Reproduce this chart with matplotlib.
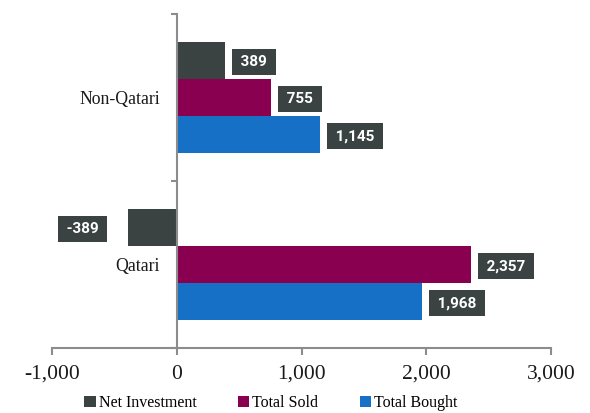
import matplotlib
matplotlib.use("Agg")
import matplotlib.pyplot as plt
from matplotlib import font_manager as fm
from matplotlib.patches import Patch

categories = ["Qatari", "Non-Qatari"]
series_names = ["Net Investment", "Total Sold", "Total Bought"]
net_investment = [-389, 389]
total_sold = [2357, 755]
total_bought = [1968, 1145]
x_ticks = [-1000, 0, 1000, 2000, 3000]
x_tick_labels = ["-1,000", "0", "1,000", "2,000", "3,000"]

colors = ["#3b4242", "#8a0050", "#1570c6"]
label_box = "#3b4242"
axis_gray = "#8c8c8c"


def pick(cands):
    for c in cands:
        try:
            fm.findfont(fm.FontProperties(family=c), fallback_to_default=False)
            return c
        except Exception:
            pass
    return cands[-1]


serif = pick(["Liberation Serif", "DejaVu Serif"])
narrow = pick(["Roboto", "DejaVu Sans"])
plt.rcParams["font.family"] = [serif, "DejaVu Serif"]

fig = plt.figure(figsize=(5.9, 4.13), dpi=100)
ax = fig.add_axes([52 / 590, 1 - 348 / 413, 499 / 590, (348 - 14) / 413])

h = 0.222
offsets = [h, 0.0, -h]
series = [net_investment, total_sold, total_bought]
fs_lab = 11
pad = 0.4
pad_pt = pad * fs_lab
sp = "\u2006"
for vals, off, col, name in zip(series, offsets, colors, series_names):
    ys = [i + off for i in range(len(categories))]
    ax.barh(ys, vals, height=h, color=col, edgecolor="none", label=name)
    for y, v in zip(ys, vals):
        txt = f"{sp}{v:,}{sp}"
        if v >= 0:
            ax.annotate(txt, (v, y), xytext=(5 + pad_pt, -1.2), textcoords="offset points",
                        ha="left", va="center", color="white", fontsize=fs_lab,
                        fontweight="bold", family=[narrow, "DejaVu Sans"],
                        bbox=dict(boxstyle=f"square,pad={pad}", fc=label_box, ec="none"))
        else:
            ax.annotate(txt, (v, y), xytext=(-15 - pad_pt, -1.2), textcoords="offset points",
                        ha="right", va="center", color="white", fontsize=fs_lab,
                        fontweight="bold", family=[narrow, "DejaVu Sans"],
                        bbox=dict(boxstyle=f"square,pad={pad}", fc=label_box, ec="none"))

ax.set_xlim(-1000, 3000)
ax.set_ylim(-0.5, 1.5)
ax.set_xticks(x_ticks)
ax.set_xticklabels(x_tick_labels)
ax.tick_params(axis="x", direction="out", length=5, width=1.5, color=axis_gray, pad=7,
               labelsize=15.5, labelcolor="#1a1a1a")

ax.set_yticks([-0.5, 0.5, 1.5])
ax.set_yticklabels([])
ax.tick_params(axis="y", which="major", direction="out", length=4, width=1.5, color=axis_gray)
ax.set_yticks(range(len(categories)), minor=True)
ax.set_yticklabels(categories, minor=True)
ax.tick_params(axis="y", which="minor", length=0, pad=12, labelsize=12.8, labelcolor="#1a1a1a")

for s in ["top", "right"]:
    ax.spines[s].set_visible(False)
ax.spines["left"].set_position(("data", 0))
for s in ["left", "bottom"]:
    ax.spines[s].set_color(axis_gray)
    ax.spines[s].set_linewidth(1.5)

handles = [Patch(facecolor=c, edgecolor="none") for c in colors]
fig.legend(handles, series_names, loc="lower center", bbox_to_anchor=(271 / 590, -0.03),
           ncol=3, frameon=False, handlelength=0.7, handleheight=0.7,
           handletextpad=0.2, columnspacing=2.6,
           prop=dict(family=serif, size=11.5))

fig.savefig("out.png", dpi=100)
